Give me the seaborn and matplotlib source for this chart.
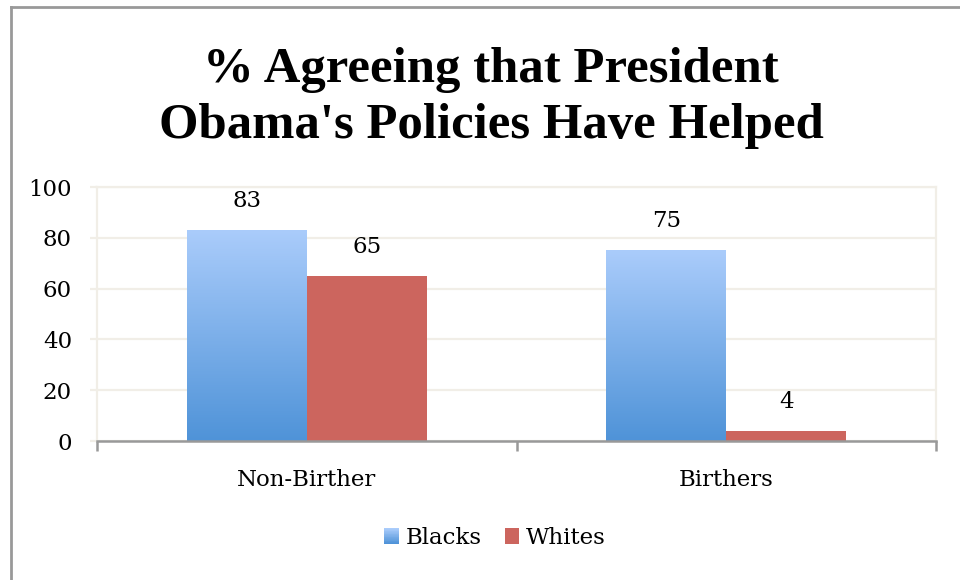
import numpy as np
import pandas as pd
import matplotlib
matplotlib.use("Agg")
import matplotlib.pyplot as plt
import seaborn as sns
from matplotlib.patches import Rectangle
from matplotlib.legend_handler import HandlerBase
from matplotlib.lines import Line2D
from matplotlib.colors import LinearSegmentedColormap, to_rgb

# ---- data ----
title_lines = ["% Agreeing that President", "Obama's Policies Have Helped"]
categories = ["Non-Birther", "Birthers"]
series = ["Blacks", "Whites"]
blacks = [83, 75]
whites = [65, 4]
yticks = [0, 20, 40, 60, 80, 100]

df = pd.DataFrame({
    "group": categories + categories,
    "race": [series[0]] * len(blacks) + [series[1]] * len(whites),
    "pct": blacks + whites,
})

# ---- style ----
plt.rcParams["font.family"] = ["DejaVu Serif"]
GRID = "#F1EEE7"
AXIS = "#999999"
BLUE_TOP = "#AACCFB"
BLUE_BOT = "#4F93D8"
RED = "#CC655E"
FS = 16.5

fig = plt.figure(figsize=(9.6, 5.8), dpi=100)
ax = fig.add_axes([97 / 960, 1 - 441 / 580, (936 - 97) / 960, (441 - 187) / 580])

sns.barplot(data=df, x="group", y="pct", hue="race", order=categories,
            hue_order=series, palette={series[0]: BLUE_BOT, series[1]: RED},
            width=0.571, gap=0, saturation=1, legend=False, ax=ax,
            edgecolor="none", linewidth=0, errorbar=None)

ax.set_xlim(-0.5, 1.5)
ax.set_ylim(0, 100)

# gradient fill for Blacks bars
cmap = LinearSegmentedColormap.from_list("bl", [BLUE_BOT, BLUE_TOP])
grad = np.linspace(0, 1, 256).reshape(-1, 1)
for p in ax.containers[0].patches:
    x0, y0, w, h = p.get_x(), p.get_y(), p.get_width(), p.get_height()
    ax.imshow(grad, cmap=cmap, origin="lower", extent=[x0, x0 + w, y0, y0 + h],
              aspect="auto", zorder=p.get_zorder(), interpolation="bilinear")
    p.set_alpha(0)
ax.set_xlim(-0.5, 1.5)
ax.set_ylim(0, 100)

# value labels
for c in ax.containers:
    ax.bar_label(c, padding=13, fontsize=FS, color="black")

# axes styling
ax.set_xlabel("")
ax.set_ylabel("")
ax.set_yticks(yticks)
ax.yaxis.grid(True, color=GRID, lw=1.6)
ax.set_axisbelow(True)
for s in ["left", "right", "top"]:
    ax.spines[s].set_color(GRID)
    ax.spines[s].set_linewidth(1.6)
ax.spines["bottom"].set_color(AXIS)
ax.spines["bottom"].set_linewidth(1.8)
ax.spines["bottom"].set_zorder(5)

ax.tick_params(axis="y", left=True, length=5, width=1.6, color=GRID, pad=13,
               labelsize=FS, labelcolor="black")
ax.set_xticks([0, 1])
ax.set_xticklabels(categories)
ax.tick_params(axis="x", which="major", length=0, pad=20, labelsize=FS,
               labelcolor="black")
ax.set_xticks([-0.5, 0.5, 1.5], minor=True)
ax.tick_params(axis="x", which="minor", bottom=True, length=7, width=1.8,
               color=AXIS, direction="out")

# title
for i, line in enumerate(title_lines):
    fig.text(491 / 960, 1 - (82 + 56 * i) / 580, line, ha="center", va="baseline",
             fontsize=36.5, fontweight="bold",
             family=["Liberation Serif", "DejaVu Serif"])

# legend with gradient handle
class GradientHandler(HandlerBase):
    def create_artists(self, legend, orig_handle, xdescent, ydescent, width,
                       height, fontsize, trans):
        arts = []
        n = 20
        c0 = np.array(to_rgb(BLUE_BOT))
        c1 = np.array(to_rgb(BLUE_TOP))
        for k in range(n):
            t = k / (n - 1)
            r = Rectangle((-xdescent, -ydescent + height * k / n), width,
                          height / n + 0.3, facecolor=c0 + (c1 - c0) * t,
                          edgecolor="none", transform=trans)
            arts.append(r)
        return arts

h_black = Rectangle((0, 0), 1, 1, facecolor=BLUE_BOT)
h_white = Rectangle((0, 0), 1, 1, facecolor=RED, edgecolor="none")
fig.legend([h_black, h_white], series, loc="center",
           bbox_to_anchor=(495 / 960, 1 - 538 / 580), ncol=2, frameon=False,
           fontsize=FS, handlelength=0.65, handleheight=0.65,
           handletextpad=0.3, columnspacing=1.0,
           handler_map={h_black: GradientHandler()})

# outer frame (top + left visible)
fig.add_artist(Line2D([11 / 960, 11 / 960], [0, 1 - 7 / 580],
                      transform=fig.transFigure, color=AXIS, lw=2))
fig.add_artist(Line2D([11 / 960, 1], [1 - 7 / 580, 1 - 7 / 580],
                      transform=fig.transFigure, color=AXIS, lw=2))

fig.savefig("out.png", dpi=100)
